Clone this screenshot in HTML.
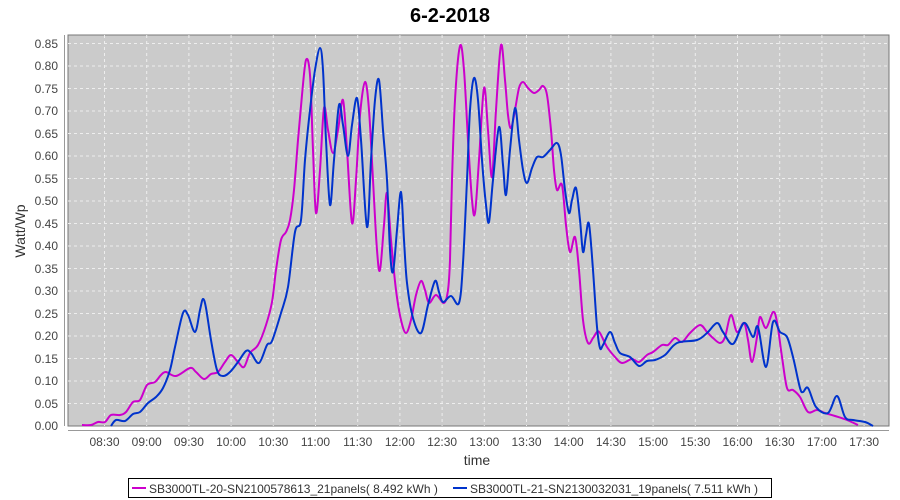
<!DOCTYPE html>
<html><head><meta charset="utf-8"><style>
body{margin:0;background:#fff;}
svg{display:block;font-family:"Liberation Sans",sans-serif;}
</style></head><body>
<svg width="900" height="500" viewBox="0 0 900 500">
<rect width="900" height="500" fill="#fff"/>
<text x="450" y="22" text-anchor="middle" font-size="20" font-weight="bold" fill="#000">6-2-2018</text>
<rect x="68" y="35" width="821" height="391" fill="#cbcbcb" stroke="#777" stroke-width="1"/>
<g stroke="#eee" stroke-width="1" stroke-dasharray="3,3">
<line x1="68" x2="889" y1="43.5" y2="43.5"/><line x1="68" x2="889" y1="66" y2="66"/><line x1="68" x2="889" y1="88.5" y2="88.5"/><line x1="68" x2="889" y1="111" y2="111"/><line x1="68" x2="889" y1="133.5" y2="133.5"/><line x1="68" x2="889" y1="156" y2="156"/><line x1="68" x2="889" y1="178.5" y2="178.5"/><line x1="68" x2="889" y1="201" y2="201"/><line x1="68" x2="889" y1="223.5" y2="223.5"/><line x1="68" x2="889" y1="246" y2="246"/><line x1="68" x2="889" y1="268.5" y2="268.5"/><line x1="68" x2="889" y1="291" y2="291"/><line x1="68" x2="889" y1="313.5" y2="313.5"/><line x1="68" x2="889" y1="336" y2="336"/><line x1="68" x2="889" y1="358.5" y2="358.5"/><line x1="68" x2="889" y1="381" y2="381"/><line x1="68" x2="889" y1="403.5" y2="403.5"/>
<line y1="35" y2="426" x1="104.5" x2="104.5"/><line y1="35" y2="426" x1="146.7" x2="146.7"/><line y1="35" y2="426" x1="188.9" x2="188.9"/><line y1="35" y2="426" x1="231.1" x2="231.1"/><line y1="35" y2="426" x1="273.3" x2="273.3"/><line y1="35" y2="426" x1="315.5" x2="315.5"/><line y1="35" y2="426" x1="357.7" x2="357.7"/><line y1="35" y2="426" x1="399.9" x2="399.9"/><line y1="35" y2="426" x1="442.1" x2="442.1"/><line y1="35" y2="426" x1="484.3" x2="484.3"/><line y1="35" y2="426" x1="526.5" x2="526.5"/><line y1="35" y2="426" x1="568.7" x2="568.7"/><line y1="35" y2="426" x1="610.9" x2="610.9"/><line y1="35" y2="426" x1="653.1" x2="653.1"/><line y1="35" y2="426" x1="695.3" x2="695.3"/><line y1="35" y2="426" x1="737.5" x2="737.5"/><line y1="35" y2="426" x1="779.7" x2="779.7"/><line y1="35" y2="426" x1="821.9" x2="821.9"/><line y1="35" y2="426" x1="864.1" x2="864.1"/>
</g>
<g stroke="#999" stroke-width="1">
<line x1="64.5" x2="64.5" y1="35" y2="426"/>
<line x1="68" x2="889" y1="430.5" y2="430.5"/>
</g>
<g font-size="12" fill="#444" text-anchor="end">
<text x="58" y="48">0.85</text><text x="58" y="70">0.80</text><text x="58" y="93">0.75</text><text x="58" y="115">0.70</text><text x="58" y="138">0.65</text><text x="58" y="160">0.60</text><text x="58" y="183">0.55</text><text x="58" y="205">0.50</text><text x="58" y="228">0.45</text><text x="58" y="250">0.40</text><text x="58" y="273">0.35</text><text x="58" y="295">0.30</text><text x="58" y="318">0.25</text><text x="58" y="340">0.20</text><text x="58" y="363">0.15</text><text x="58" y="385">0.10</text><text x="58" y="408">0.05</text><text x="58" y="430">0.00</text>
</g>
<g font-size="12" fill="#444" text-anchor="middle">
<text x="104.5" y="446">08:30</text><text x="146.7" y="446">09:00</text><text x="188.9" y="446">09:30</text><text x="231.1" y="446">10:00</text><text x="273.3" y="446">10:30</text><text x="315.5" y="446">11:00</text><text x="357.7" y="446">11:30</text><text x="399.9" y="446">12:00</text><text x="442.1" y="446">12:30</text><text x="484.3" y="446">13:00</text><text x="526.5" y="446">13:30</text><text x="568.7" y="446">14:00</text><text x="610.9" y="446">14:30</text><text x="653.1" y="446">15:00</text><text x="695.3" y="446">15:30</text><text x="737.5" y="446">16:00</text><text x="779.7" y="446">16:30</text><text x="821.9" y="446">17:00</text><text x="864.1" y="446">17:30</text>
</g>
<text x="477" y="465" text-anchor="middle" font-size="14" fill="#333">time</text>
<text transform="translate(25,231) rotate(-90)" text-anchor="middle" font-size="14" fill="#333">Watt/Wp</text>
<polyline class="sm" fill="none" stroke="#cc00cc" stroke-width="2" stroke-linejoin="round" points="82,425 91,425 98,422 105,422 111,415 120,415 126,412 133,402 140,400 147,385 155,382 161,375 166,372 176,376 190,368 196,372 204,379 211,374 218,372 225,362 231,355 238,362 244,367 250,353 258,345 266,325 272,302 276,270 281,240 286,232 290,220 294,190 298,140 302,95 306,60 310,75 313,150 316,213 320,170 324,108 328,130 333,153 338,130 343,100 347,150 352,223 356,180 360,115 365,82 369,110 373,180 377,250 380,270 384,225 387,193 391,240 396,290 401,320 406,333 411,320 416,295 421,281 425,290 429,303 436,295 444,303 448,290 450,260 452,180 455,100 460,46 464,70 468,140 472,200 475,213 479,160 484,88 488,130 492,177 496,110 501,45 505,80 508,115 511,128 515,110 519,88 523,82 528,88 534,93 539,90 543,86 547,95 551,130 554,170 557,190 562,185 566,225 570,252 575,237 579,270 583,320 588,343 593,338 597,332 600,333 607,347 615,357 622,363 632,359 639,362 647,355 653,352 662,345 668,345 675,338 682,342 690,333 700,325 707,332 713,338 720,343 725,337 731,315 737,332 744,323 748,340 752,362 757,337 760,317 766,328 773,312 777,322 782,357 787,388 793,390 800,397 808,412 817,410 825,413 835,416 847,420 858,425"/>
<polyline class="sm" fill="none" stroke="#0033cc" stroke-width="2" stroke-linejoin="round" points="111,426 116,420 125,421 133,414 140,412 148,403 156,397 163,388 170,370 175,347 183,313 188,315 195,332 200,310 203,299 206,308 211,340 217,370 223,376 230,372 238,362 246,351 251,353 259,363 267,345 272,341 281,313 288,287 295,232 301,220 305,160 310,110 315,70 320,48 323,70 326,140 330,205 334,160 339,105 343,125 348,156 352,125 357,98 361,140 367,227 371,160 375,100 379,80 383,130 387,180 390,250 393,272 397,230 401,192 404,240 407,283 413,318 421,333 428,305 435,281 439,292 443,302 451,296 459,303 463,263 467,180 470,110 474,78 478,100 482,160 486,205 489,222 493,180 499,127 503,165 506,195 510,150 515,108 519,140 523,170 527,183 532,168 537,157 543,157 550,150 557,143 561,155 565,190 569,213 572,200 576,188 580,220 583,252 586,235 589,224 593,270 597,327 600,348 603,345 610,332 615,343 620,353 630,357 639,366 647,361 655,360 665,355 677,343 697,340 707,333 717,323 723,332 733,344 744,323 753,337 758,327 766,367 773,322 780,332 787,337 793,357 800,388 803,392 808,388 816,407 828,413 837,396 845,417 853,420 865,422 873,426"/>
<rect x="128.5" y="478.5" width="643" height="19" fill="#fff" stroke="#000" stroke-width="1"/>
<line x1="132" x2="146" y1="488" y2="488" stroke="#cc00cc" stroke-width="2"/>
<text x="149" y="493" font-size="12" fill="#333">SB3000TL-20-SN2100578613_21panels( 8.492 kWh )</text>
<line x1="453" x2="467" y1="488" y2="488" stroke="#0033cc" stroke-width="2"/>
<text x="470" y="493" font-size="12" fill="#333">SB3000TL-21-SN2130032031_19panels( 7.511 kWh )</text>
</svg>
<script>
document.querySelectorAll('polyline.sm').forEach(function(pl){
  var p=pl.getAttribute('points').trim().split(/\s+/).map(function(s){return s.split(',').map(Number);});
  var d='M'+p[0][0]+','+p[0][1];
  for(var i=0;i<p.length-1;i++){
    var p0=p[i>0?i-1:i],p1=p[i],p2=p[i+1],p3=p[i+2<p.length?i+2:i+1];
    var c1x=p1[0]+(p2[0]-p0[0])/6,c1y=p1[1]+(p2[1]-p0[1])/6;
    var c2x=p2[0]-(p3[0]-p1[0])/6,c2y=p2[1]-(p3[1]-p1[1])/6;
    d+=' C'+c1x.toFixed(1)+','+c1y.toFixed(1)+' '+c2x.toFixed(1)+','+c2y.toFixed(1)+' '+p2[0]+','+p2[1];
  }
  var path=document.createElementNS('http://www.w3.org/2000/svg','path');
  path.setAttribute('d',d);path.setAttribute('fill','none');
  path.setAttribute('stroke',pl.getAttribute('stroke'));path.setAttribute('stroke-width','2');
  path.setAttribute('stroke-linejoin','round');
  pl.parentNode.replaceChild(path,pl);
});
</script>
</body></html>
